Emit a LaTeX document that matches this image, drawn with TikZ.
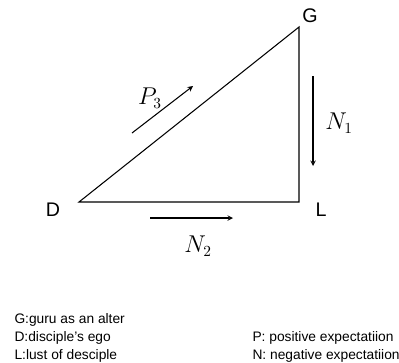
\documentclass[tikz,border=0pt]{standalone}
\usepackage{fontspec}
\setmainfont{Liberation Sans}
\begin{document}
\begin{tikzpicture}[x=0.025cm, y=-0.025cm, >=stealth, line width=0.75pt,
  vert/.style={font=\fontsize{14}{16}\selectfont},
  rel/.style={font=\fontsize{16}{18}\selectfont},
  leg/.style={anchor=base west, inner sep=0pt, font=\fontsize{9.8}{12}\selectfont}]
\useasboundingbox (0,0) rectangle (399,362);
% triangle
\coordinate (d) at (79,202);
\coordinate (g) at (299,27);
\coordinate (l) at (299,202);
\draw (d) -- (g) -- (l) -- cycle;
\node[vert] (gl) at (310,16) {G};
\node[vert] (dl) at (53,210) {D};
\node[vert] (ll) at (321,210) {L};
% expectations
\coordinate (p0) at (132,133); \coordinate (p1) at (193,86);
\coordinate (n10) at (313,76); \coordinate (n11) at (313,166);
\coordinate (n20) at (150,218); \coordinate (n21) at (233,218);
\draw[->] (p0) -- (p1);
\draw[->] (n10) -- (n11);
\draw[->] (n20) -- (n21);
\node[rel] (p) at (150,98) {$P_3$};
\node[rel] (n1) at (339,123) {$N_1$};
\node[rel] (n2) at (198,246) {$N_2$};
% legend
\foreach \y/\txt in {323/G:guru as an alter, 341/D:disciple's ego, 359/L:lust of desciple}
  \node[leg] at (14,\y) {\txt};
\node[leg] (lp) at (252,341) {P: positive expectatiion};
\node[leg] (ln) at (252,359) {N: negative expectatiion};
\end{tikzpicture}
\end{document}
